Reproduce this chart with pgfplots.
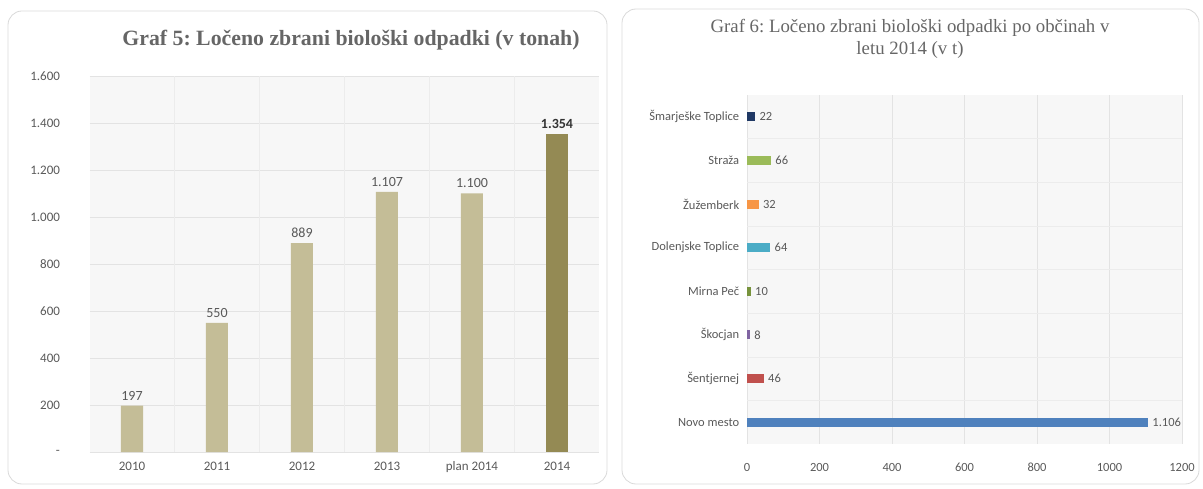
\documentclass[border=0pt]{standalone}
\usepackage{pgfplots}
\pgfplotsset{compat=1.18}
\usepackage{fontspec}
\setmainfont{Carlito}
\newfontfamily\titlefont{Liberation Serif}
\frenchspacing
\definecolor{khaki}{HTML}{C4BD97}
\definecolor{olive14}{HTML}{948A54}
\definecolor{titlegray}{HTML}{666666}
\definecolor{labgray}{HTML}{595959}
\definecolor{c1}{HTML}{1F3864}
\definecolor{c2}{HTML}{9BBB59}
\definecolor{c3}{HTML}{F79646}
\definecolor{c4}{HTML}{4BACC6}
\definecolor{c5}{HTML}{77933C}
\definecolor{c6}{HTML}{8064A2}
\definecolor{c7}{HTML}{C0504D}
\definecolor{c8}{HTML}{4F81BD}
\begin{document}
\begin{tikzpicture}
\path (0pt,0pt) rectangle (1203pt,488pt);
\draw[gray!30, rounded corners=14pt, line width=0.8pt] (8pt,4pt) rectangle (607pt,477pt);
\draw[gray!30, rounded corners=14pt, line width=0.8pt] (622pt,4pt) rectangle (1199pt,479pt);
\node[font=\titlefont\bfseries\fontsize{21.8}{24}\selectfont, text=titlegray] at (351pt,448pt) {Graf 5: Ločeno zbrani biološki odpadki (v tonah)};
\node[font=\titlefont\fontsize{18.8}{22}\selectfont, text=titlegray, align=center] at (910pt,449pt) {Graf 6: Ločeno zbrani biološki odpadki po občinah v\\letu 2014 (v t)};

\begin{axis}[at={(89.5pt,36pt)}, anchor=south west, width=510pt, height=376pt, scale only axis,
  xmin=-0.5, xmax=5.5, ymin=0, ymax=1600,
  xtick={0,...,5}, xticklabels={2010,2011,2012,2013,plan 2014,2014},
  ytick={0,200,...,1600}, yticklabels={-,200,400,600,800,1.000,1.200,1.400,1.600},
  axis line style={draw=none}, tick style={draw=none},
  axis background/.style={fill=gray!6},
  ymajorgrids, major grid style={gray!22},
  extra x ticks={0.5,1.5,2.5,3.5,4.5}, extra x tick labels={},
  extra x tick style={xmajorgrids, major grid style={gray!15}},
  ticklabel style={font=\fontsize{13}{15}\selectfont, text=labgray},
  yticklabel style={xshift=-26pt},
  xticklabel style={yshift=-2pt},
  ybar, bar width=22pt,
  nodes near coords, every node near coord/.append style={font=\fontsize{14}{16}\selectfont, text=labgray, yshift=2pt},
  /pgf/number format/.cd, 1000 sep={.}, assume math mode=true]
\addplot[fill=khaki, draw=none, bar shift=0pt] coordinates {(0,197) (1,550) (2,889) (3,1107) (4,1100)};
\addplot[fill=olive14, draw=none, bar shift=0pt, every node near coord/.append style={font=\bfseries\fontsize{14}{16}\selectfont, text=black!80}] coordinates {(5,1354)};
\end{axis}

\begin{axis}[at={(747pt,44pt)}, anchor=south west, width=435pt, height=349pt, scale only axis,
  xmin=0, xmax=1200, ymin=-0.5, ymax=7.5,
  xtick={0,200,...,1200}, xticklabels={0,200,400,600,800,1000,1200},
  ytick={0,...,7}, yticklabels={Novo mesto,Šentjernej,Škocjan,Mirna Peč,Dolenjske Toplice,Žužemberk,Straža,Šmarješke Toplice},
  axis line style={draw=none}, tick style={draw=none},
  axis background/.style={fill=gray!6},
  xmajorgrids, major grid style={gray!22},
  extra y ticks={0.5,1.5,2.5,3.5,4.5,5.5,6.5}, extra y tick labels={},
  extra y tick style={ymajorgrids, major grid style={gray!15}},
  ticklabel style={font=\fontsize{12.5}{15}\selectfont, text=labgray},
  xticklabel style={yshift=-27pt, anchor=base},
  xbar, bar width=9pt,
  nodes near coords, every node near coord/.append style={font=\fontsize{12.5}{15}\selectfont, text=labgray, xshift=1pt},
  /pgf/number format/.cd, 1000 sep={.}, assume math mode=true]
\addplot[fill=c8, draw=none, bar shift=0pt] coordinates {(1106,0)};
\addplot[fill=c7, draw=none, bar shift=0pt] coordinates {(46,1)};
\addplot[fill=c6, draw=none, bar shift=0pt] coordinates {(8,2)};
\addplot[fill=c5, draw=none, bar shift=0pt] coordinates {(10,3)};
\addplot[fill=c4, draw=none, bar shift=0pt] coordinates {(64,4)};
\addplot[fill=c3, draw=none, bar shift=0pt] coordinates {(32,5)};
\addplot[fill=c2, draw=none, bar shift=0pt] coordinates {(66,6)};
\addplot[fill=c1, draw=none, bar shift=0pt] coordinates {(22,7)};
\end{axis}
\end{tikzpicture}
\end{document}
